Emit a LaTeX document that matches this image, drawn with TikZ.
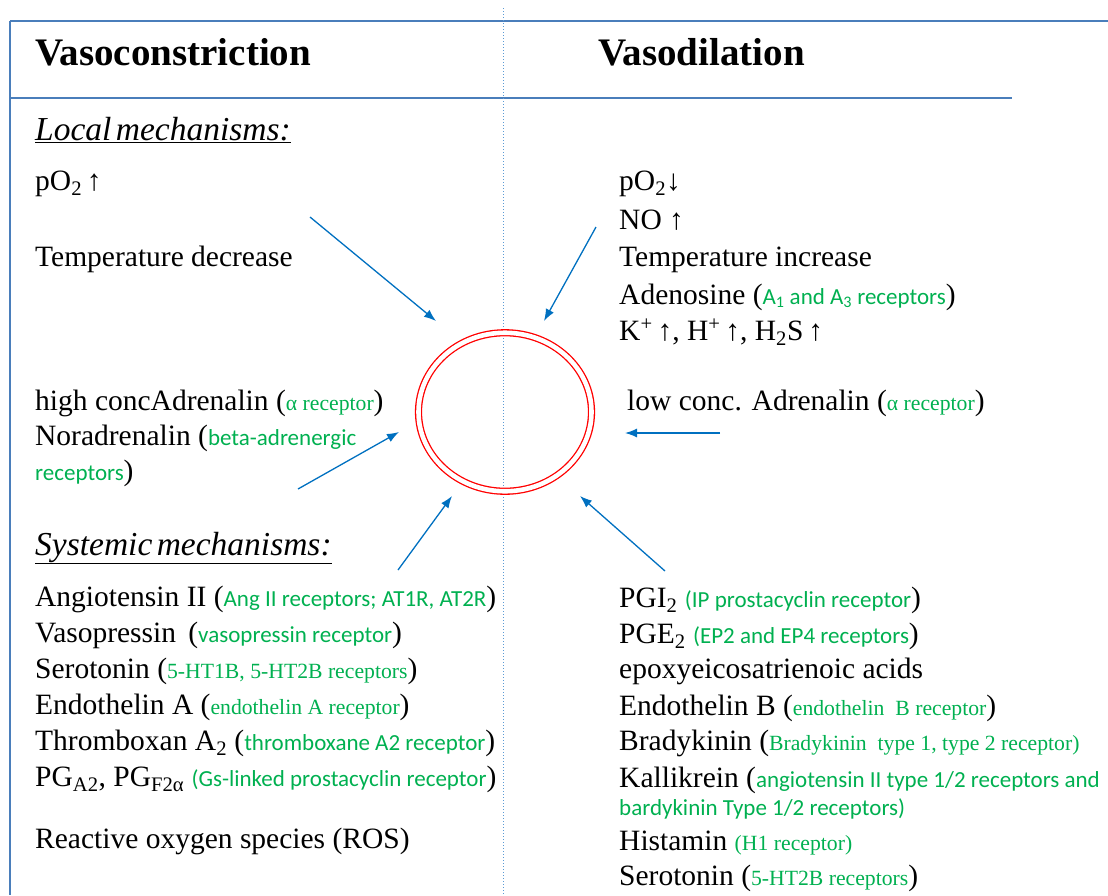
\documentclass[tikz,border=0pt]{standalone}
\usepackage{fontspec}
\setmainfont{Liberation Serif}
\newfontfamily\carlito{Carlito}
\usetikzlibrary{arrows.meta,shapes.geometric}

\definecolor{rcpgreen}{RGB}{0,176,80}
\definecolor{linkblue}{RGB}{0,112,192}
\definecolor{ruleblue}{RGB}{74,126,187}
\definecolor{dotblue}{RGB}{91,155,213}

% receptor names, green
\newcommand{\rc}[1]{{\color{rcpgreen}\carlito\fontsize{23}{28}\selectfont #1}}
\newcommand{\rs}[1]{{\color{rcpgreen}\fontsize{21.7}{26}\selectfont #1}}

\tikzset{
  txt/.style={anchor=base west,inner sep=0pt,font=\fontsize{29.5}{35}\selectfont},
  head/.style={anchor=base west,inner sep=0pt,font=\fontsize{39}{46}\selectfont\bfseries},
  sect/.style={anchor=base west,inner sep=0pt,font=\fontsize{33.5}{40}\selectfont\itshape},
  frame/.style={ruleblue,line width=2.5pt},
  midline/.style={dotblue,dotted,line width=1pt},
  push/.style={linkblue,line width=1.3pt,-{Latex[length=12pt,width=9pt]}},
}

\begin{document}
\begin{tikzpicture}[x=1pt,y=-1pt]
\useasboundingbox (0,0) rectangle (1108,895);

% frame
\draw[frame] (10,21) -- (1108,21);
\draw[frame] (10,98) -- (1012,98);
\draw[frame] (10,21) -- (10,895);
\draw[midline] (503,8) -- (503,895);

% headings
\node[head] (vc) at (35,65) {Vasoconstriction};
\node[head] (vd) at (598,65) {Vasodilation};

% left column
\node[sect] (loc) at (35,140) {\underline{Local\hspace{-0.12em} mechanisms:}};
\node[txt] (po2up) at (35,190) {pO\textsubscript{2}\,↑};
\node[txt] (tdec) at (35,266) {Temperature decrease};
\node[txt] (hadr) at (35,410) {high concAdrenalin (\rs{α receptor})};
\node[txt] (nadr) at (35,445) {Noradrenalin (\rc{beta-adrenergic}};
\node[txt] (nadr2) at (35,480) {\rc{receptors})};
\node[sect] (sys) at (35,555) {\underline{Systemic\hspace{-0.12em} mechanisms:}};
\node[txt] (ang) at (35,606) {Angiotensin II (\rc{Ang II receptors; AT1R, AT2R})};
\node[txt] (vas) at (35,642) {Vasopressin \,(\rc{vasopressin receptor})};
\node[txt] (ser) at (35,678) {Serotonin (\rs{5-HT1B, 5-HT2B receptors})};
\node[txt] (eta) at (35,714) {Endothelin A (\rs{endothelin A receptor})};
\node[txt] (txa) at (35,750) {Thromboxan A\textsubscript{2} (\rc{thromboxane A2 receptor})};
\node[txt] (pga) at (35,786) {PG\textsubscript{A2}, PG\textsubscript{F2α} \rc{(Gs-linked prostacyclin receptor})};
\node[txt] (ros) at (35,848) {Reactive oxygen species (ROS)};

% right column
\node[txt] (po2dn) at (619,190) {pO\textsubscript{2}↓};
\node[txt] (no) at (619,229) {NO ↑};
\node[txt] (tinc) at (619,266) {Temperature increase};
\node[txt] (ado) at (619,304) {Adenosine (\rc{A\textsubscript{1} and A\textsubscript{3} receptors})};
\node[txt] (ions) at (619,340) {K\textsuperscript{+}\,↑, H\textsuperscript{+}\,↑, H\textsubscript{2}S\,↑};
\node[txt] (ladr) at (627,410) {low conc. Adrenalin (\rs{α receptor})};
\node[txt] (pgi) at (619,607) {PGI\textsubscript{2} \rc{(IP prostacyclin receptor})};
\node[txt] (pge) at (619,643) {PGE\textsubscript{2} \rc{(EP2 and EP4 receptors})};
\node[txt] (eet) at (619,678) {epoxyeicosatrienoic acids};
\node[txt] (etb) at (619,715) {Endothelin B (\rs{endothelin~ B receptor})};
\node[txt] (bdk) at (619,750) {Bradykinin (\rs{Bradykinin~ type 1, type 2 receptor)}};
\node[txt] (kal) at (619,787) {Kallikrein (\rc{angiotensin II type 1/2 receptors and}};
\node[txt] (kal2) at (619,815) {\rc{bardykinin Type 1/2 receptors)}};
\node[txt] (his) at (619,850) {Histamin \rs{(H1 receptor)}};
\node[txt] (ser2) at (619,885) {Serotonin (\rs{5-HT2B receptors})};

% vessel
\node[ellipse,draw=red,line width=1.3pt,double=white,double distance=4.6pt,
  minimum width=173,minimum height=158.5,inner sep=0pt] (vessel) at (505,412) {};

% arrow ends
\coordinate (tdecTail) at (310,217);
\coordinate (tdecTip) at (436,321);
\coordinate (vdTail) at (596,227);
\coordinate (vdTip) at (544,321);
\coordinate (nadrTail) at (298,489);
\coordinate (nadrTip) at (399,432);
\coordinate (ladrTail) at (720,433);
\coordinate (ladrTip) at (625,433);
\coordinate (sysTail) at (398,570);
\coordinate (sysTip) at (452,496);
\coordinate (pgiTail) at (665,571);
\coordinate (pgiTip) at (580,496);

%arrows
\path (tdecTail) edge[push] (tdecTip);
\path (vdTail) edge[push] (vdTip);
\path (nadrTail) edge[push] (nadrTip);
\path (ladrTail) edge[push] (ladrTip);
\path (sysTail) edge[push] (sysTip);
\path (pgiTail) edge[push] (pgiTip);

\end{tikzpicture}
\end{document}
